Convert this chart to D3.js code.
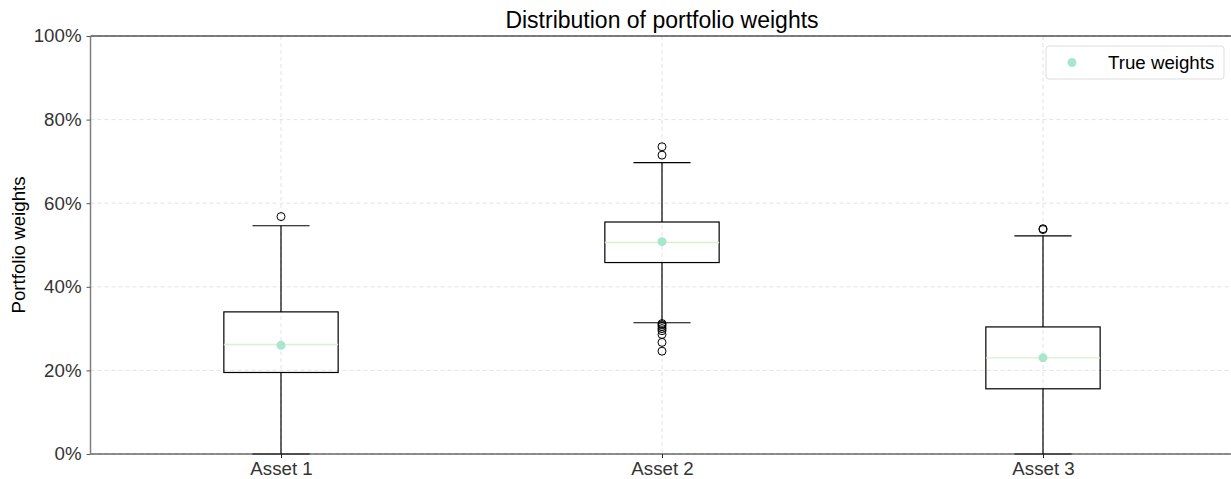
<!DOCTYPE html>
<html>
<head>
<meta charset="utf-8">
<script src="https://cdn.jsdelivr.net/npm/d3@7"></script>
<style>
  body { margin: 0; background: #fff; }
  svg { display: block; font-family: "Liberation Sans", Arial, sans-serif; }
</style>
</head>
<body>
<svg id="chart" width="1231" height="479"></svg>
<script>
// data (fractions of 1)
var assets = ["Asset 1", "Asset 2", "Asset 3"];
var q1 = [0.195, 0.458, 0.156];
var medians = [0.262, 0.506, 0.230];
var q3 = [0.340, 0.555, 0.304];
var whiskerLow = [0.0, 0.314, 0.0];
var whiskerHigh = [0.546, 0.697, 0.522];
var outliers = [
  [0.568],
  [0.735, 0.715, 0.312, 0.309, 0.305, 0.300, 0.295, 0.286, 0.267, 0.246],
  [0.537, 0.539]
];
var trueWeights = [0.260, 0.508, 0.230];
var yTicks = [0, 0.2, 0.4, 0.6, 0.8, 1.0];

var svg = d3.select("#chart");
var margin = {l: 90.5, r: -2.5, t: 36, b: 25};
var W = 1231, H = 479;
var iw = W - margin.l - margin.r, ih = H - margin.t - margin.b;
var fontSize = "18.7px";

var x = d3.scaleLinear().domain([0.5, 3.5]).range([0, iw]);
var y = d3.scaleLinear().domain([0, 1]).range([ih, 0]);

var g = svg.append("g").attr("transform", "translate(" + margin.l + "," + margin.t + ")");

// grid
g.selectAll(".hgrid").data(yTicks).enter().append("line")
  .attr("x1", 0).attr("x2", iw)
  .attr("y1", function(d){ return y(d); }).attr("y2", function(d){ return y(d); })
  .attr("stroke", "#dcdcdc").attr("stroke-dasharray", "4,3").attr("stroke-width", 0.8);
g.selectAll(".vgrid").data(assets).enter().append("line")
  .attr("x1", function(_, i){ return x(i + 1); }).attr("x2", function(_, i){ return x(i + 1); })
  .attr("y1", 0).attr("y2", ih)
  .attr("stroke", "#dcdcdc").attr("stroke-dasharray", "4,3").attr("stroke-width", 0.8);

// boxes
var bw = x(0.3) - x(0), cw = bw / 2;
var box = g.selectAll(".box").data(assets).enter().append("g").attr("class", "box");
box.append("line")
  .attr("x1", function(_, i){ return x(i + 1); }).attr("x2", function(_, i){ return x(i + 1); })
  .attr("y1", function(_, i){ return y(whiskerLow[i]); }).attr("y2", function(_, i){ return y(q1[i]); })
  .attr("stroke", "#000").attr("stroke-width", 1.2);
box.append("line")
  .attr("x1", function(_, i){ return x(i + 1); }).attr("x2", function(_, i){ return x(i + 1); })
  .attr("y1", function(_, i){ return y(q3[i]); }).attr("y2", function(_, i){ return y(whiskerHigh[i]); })
  .attr("stroke", "#000").attr("stroke-width", 1.2);
[whiskerLow, whiskerHigh].forEach(function(arr){
  box.append("line")
    .attr("x1", function(_, i){ return x(i + 1) - cw / 2; }).attr("x2", function(_, i){ return x(i + 1) + cw / 2; })
    .attr("y1", function(_, i){ return y(arr[i]); }).attr("y2", function(_, i){ return y(arr[i]); })
    .attr("stroke", "#000").attr("stroke-width", 1.2);
});
box.append("rect")
  .attr("x", function(_, i){ return x(i + 1) - bw / 2; })
  .attr("y", function(_, i){ return y(q3[i]); })
  .attr("width", bw)
  .attr("height", function(_, i){ return y(q1[i]) - y(q3[i]); })
  .attr("fill", "none").attr("stroke", "#000").attr("stroke-width", 1.2);
box.append("line")
  .attr("x1", function(_, i){ return x(i + 1) - bw / 2; }).attr("x2", function(_, i){ return x(i + 1) + bw / 2; })
  .attr("y1", function(_, i){ return y(medians[i]); }).attr("y2", function(_, i){ return y(medians[i]); })
  .attr("stroke", "#dcf0cc").attr("stroke-width", 1.3);
box.selectAll(".flier").data(function(_, i){ return outliers[i].map(function(v){ return {i: i, v: v}; }); })
  .enter().append("circle")
  .attr("cx", function(d){ return x(d.i + 1); }).attr("cy", function(d){ return y(d.v); })
  .attr("r", 4).attr("fill", "none").attr("stroke", "#000").attr("stroke-width", 1);

// true weights
g.selectAll(".tw").data(trueWeights).enter().append("circle")
  .attr("cx", function(_, i){ return x(i + 1); }).attr("cy", function(d){ return y(d); })
  .attr("r", 4.5).attr("fill", "#a8e6cf");

// spines
g.append("line").attr("x1", 0).attr("x2", iw).attr("y1", 0).attr("y2", 0).attr("stroke", "#000").attr("stroke-width", 1.2);
g.append("line").attr("x1", 0).attr("x2", iw).attr("y1", ih).attr("y2", ih).attr("stroke", "#222").attr("stroke-width", 1.2);
g.append("line").attr("x1", 0).attr("x2", 0).attr("y1", 0).attr("y2", ih).attr("stroke", "#808080").attr("stroke-width", 1.5);

// y axis
var yAxis = d3.axisLeft(y).tickValues(yTicks).tickFormat(d3.format(".0%")).tickSize(4).tickPadding(5);
var ya = g.append("g").call(yAxis);
ya.select(".domain").remove();
ya.selectAll(".tick line").attr("stroke", "#555");
ya.selectAll(".tick text").attr("fill", "#333").style("font-size", fontSize).style("font-family", "Liberation Sans, Arial, sans-serif");

// x axis
var xAxis = d3.axisBottom(x).tickValues([1, 2, 3]).tickFormat(function(d){ return assets[d - 1]; }).tickSize(4).tickPadding(4);
var xa = g.append("g").attr("transform", "translate(0," + ih + ")").call(xAxis);
xa.select(".domain").remove();
xa.selectAll(".tick line").attr("stroke", "#222");
xa.selectAll(".tick text").attr("fill", "#333").style("font-size", fontSize).style("font-family", "Liberation Sans, Arial, sans-serif");

// title and labels
svg.append("text").attr("x", margin.l + x(2)).attr("y", 28).attr("text-anchor", "middle")
  .style("font-size", "23px").attr("fill", "#000").text("Distribution of portfolio weights");
svg.append("text").attr("transform", "translate(25," + (margin.t + ih / 2) + ") rotate(-90)")
  .attr("text-anchor", "middle").style("font-size", fontSize).attr("fill", "#000").text("Portfolio weights");

// legend
var lg = svg.append("g").attr("transform", "translate(1046,46)");
lg.append("rect").attr("width", 178).attr("height", 33).attr("rx", 3)
  .attr("fill", "#fff").attr("stroke", "#ddd").attr("stroke-width", 1);
lg.append("circle").attr("cx", 26).attr("cy", 16.5).attr("r", 4.5).attr("fill", "#a8e6cf");
lg.append("text").attr("x", 62).attr("y", 22.5).style("font-size", fontSize).attr("fill", "#000").text("True weights");
</script>
</body>
</html>
